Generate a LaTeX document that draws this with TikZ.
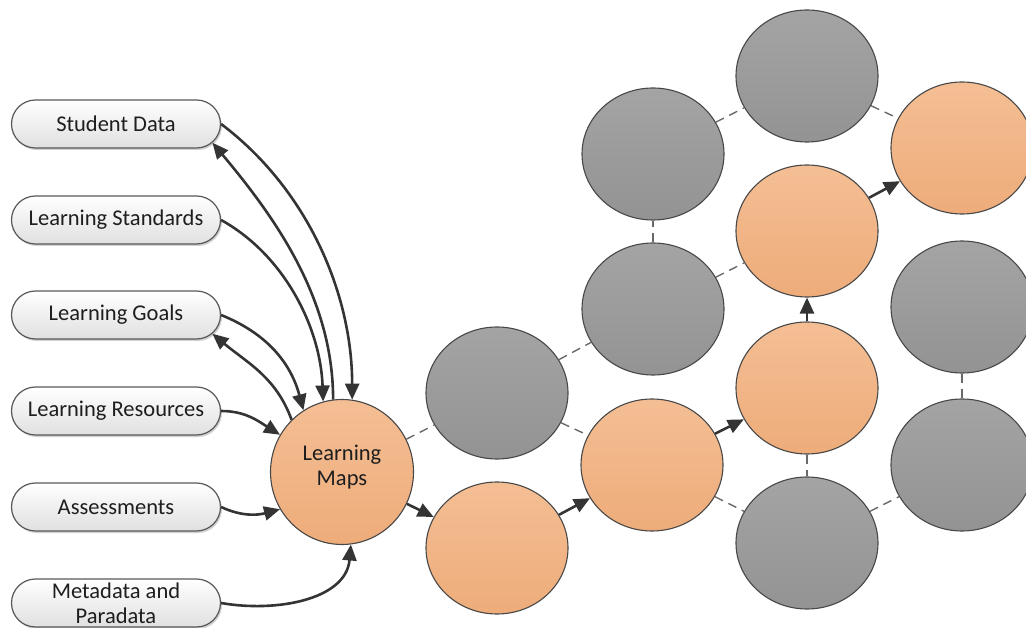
\documentclass[tikz,border=0pt]{standalone}
\usepackage{fontspec}
\setmainfont{Carlito}
\usetikzlibrary{arrows.meta,shapes.geometric,shapes.misc,shadows}

\definecolor{orgtop}{RGB}{244,190,148}
\definecolor{orgbot}{RGB}{238,172,122}
\definecolor{grytop}{RGB}{164,164,164}
\definecolor{grybot}{RGB}{147,147,147}
\definecolor{edge}{RGB}{72,72,72}
\definecolor{boxbot}{RGB}{224,224,224}
\definecolor{boxline}{RGB}{88,88,88}
\definecolor{arr}{RGB}{52,52,52}
\definecolor{dsh}{RGB}{105,105,105}
\definecolor{txt}{RGB}{30,30,30}

\begin{document}
\begin{tikzpicture}[x=1pt,y=-1pt,
  font=\fontsize{22.5}{25}\selectfont,
  source/.style={rounded rectangle, draw=boxline, line width=1.2pt,
    top color=white, bottom color=boxbot,
    minimum width=217pt, minimum height=48pt, inner xsep=4pt, inner ysep=0pt,
    align=center, text=txt,
    drop shadow={shadow xshift=1.5pt, shadow yshift=-2pt, opacity=0.18, fill=black}},
  bub/.style={ellipse, draw=edge, line width=1.1pt,
    minimum width=142pt, minimum height=132pt, inner sep=0pt},
  live/.style={bub, top color=orgtop, bottom color=orgbot},
  idle/.style={bub, top color=grytop, bottom color=grybot},
  flow/.style={draw=arr, line width=2.6pt, -{Triangle[length=16pt,width=14pt]}},
  link/.style={draw=dsh, line width=1.4pt, dash pattern=on 9pt off 6pt}]

\useasboundingbox (0,0) rectangle (1026,628);

% information sources
\node[source] (sd) at (116,124) {Student Data};
\node[source] (ls) at (116,220) {Learning Standards};
\node[source] (lg) at (116,315) {Learning Goals};
\node[source] (lr) at (116,411) {Learning Resources};
\node[source] (as) at (116,507) {Assessments};
\node[source] (md) at (116,603) {Metadata and\\Paradata};

% central map
\node[live, minimum width=143pt, minimum height=145pt,
  label={[align=center, text=txt, yshift=5pt]center:Learning\\Maps}]
  (lm) at (342,472) {};

% network of learning nodes
\node[idle] (g1)  at (497,393) {};
\node[live] (o1)  at (497,548) {};
\node[idle] (g2t) at (653,154) {};
\node[idle] (g2m) at (653,309) {};
\node[live] (o2)  at (652,465) {};
\node[idle] (g3t) at (807,76)  {};
\node[live] (o3)  at (807,231) {};
\node[live] (o3b) at (807,388) {};
\node[idle] (g3b) at (807,543) {};
\node[live] (o4)  at (962,148) {};
\node[idle] (g4m) at (962,307) {};
\node[idle] (g4b) at (962,465) {};

% possible links
\draw[link] (lm)  -- (g1);
\draw[link] (g1)  -- (g2m);
\draw[link] (g1)  -- (o2);
\draw[link] (o2)  -- (g3b);
\draw[link] (g2m) -- (g2t);
\draw[link] (g2t) -- (g3t);
\draw[link] (g3t) -- (o4);
\draw[link] (g2m) -- (o3);
\draw[link] (o3b) -- (g3b);
\draw[link] (g4m) -- (g4b);
\draw[link] (g3b) -- (g4b);

% chosen learning path
\draw[flow] (lm)  -- (o1);
\draw[flow] (o1)  -- (o2);
\draw[flow] (o2)  -- (o3b);
\draw[flow] (o3b) -- (o3);
\draw[flow] (o3)  -- (o4);

% inputs to the map and feedback to sources
\draw[flow] (sd.east) to[out=-37,in=90,looseness=0.9] (lm.82);
\draw[flow] (lm.97) to[out=90,in=-50,looseness=0.9] (sd.-11);
\draw[flow] (ls.east) to[out=-29,in=92,looseness=0.9] (lm.105);
\draw[flow] (lg.east) to[out=-22,in=105] (lm.122);
\draw[flow] (lm.134) to[out=110,in=-40] (lg.-11);
\draw[flow] (lr.east) to[out=0,in=148] (lm.149);
\draw[flow] (as.east) to[out=-25,in=195] (lm.211);
\draw[flow] (md.east) to[out=-10,in=-95] (lm.277);
\end{tikzpicture}
\end{document}
